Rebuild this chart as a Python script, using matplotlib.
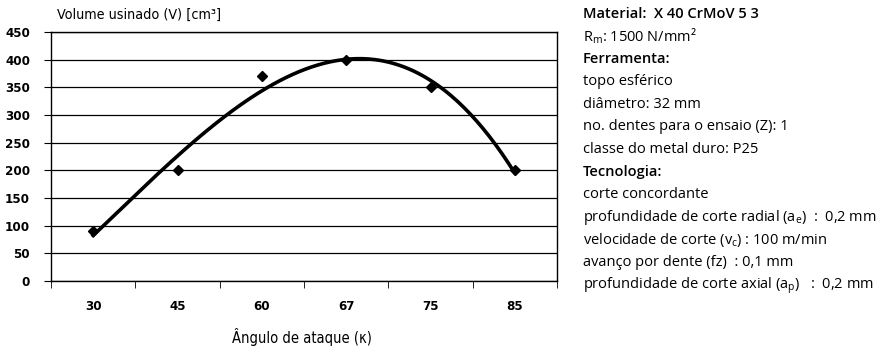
import numpy as np
import matplotlib
matplotlib.use("Agg")
import matplotlib.pyplot as plt

# data
angulos = ["30", "45", "60", "67", "75", "85"]
volume = [90, 200, 370, 400, 350, 200]
y_ticks = [0, 50, 100, 150, 200, 250, 300, 350, 400, 450]

info_lines = [
    ("Material:  X 40 CrMoV 5 3", True),
    ("R$\\mathregular{_m}$: 1500 N/mm²", False),
    ("Ferramenta:", True),
    ("topo esférico", False),
    ("diâmetro: 32 mm", False),
    ("no. dentes para o ensaio (Z): 1", False),
    ("classe do metal duro: P25", False),
    ("Tecnologia:", True),
    ("corte concordante", False),
    ("profundidade de corte radial (a$\\mathregular{_e}$)  :  0,2 mm", False),
    ("velocidade de corte (v$\\mathregular{_c}$) : 100 m/min", False),
    ("avanço por dente (fz)  : 0,1 mm", False),
    ("profundidade de corte axial (a$\\mathregular{_p}$)   :  0,2 mm", False),
]

plt.rcParams['mathtext.fontset'] = 'custom'
plt.rcParams['mathtext.rm'] = 'Open Sans'

fig = plt.figure(figsize=(8.96, 3.5), dpi=100)
ax = fig.add_axes([51/896, 69/350, 506/896, 249/350])

x = np.arange(len(angulos))
# polynomial trend line (3rd order) like the spreadsheet
coef = np.polyfit(x, volume, 3)
xs = np.linspace(x[0], x[-1], 200)
ax.plot(xs, np.polyval(coef, xs), color="black", lw=2.6, zorder=3)
ax.plot(x, volume, linestyle="none", marker="D", ms=5.5, color="black", zorder=4)

ax.set_xlim(-0.5, len(angulos) - 0.5)
ax.set_ylim(0, 450)
ax.set_yticks(y_ticks)
ax.set_xticks(x)
ax.set_xticklabels(angulos)
ax.set_xticks(np.arange(len(angulos) + 1) - 0.5, minor=True)
ax.tick_params(axis="x", which="major", length=0, pad=14)
ax.tick_params(axis="x", which="minor", length=5, direction="out")
ax.tick_params(axis="y", length=5, direction="out", pad=10)
for lab in ax.get_xticklabels() + ax.get_yticklabels():
    lab.set_family("DejaVu Sans")
    lab.set_stretch("condensed")
    lab.set_weight("bold")
    lab.set_fontsize(9.5)
ax.grid(axis="y", color="black", lw=0.9)
ax.set_axisbelow(True)
for s in ax.spines.values():
    s.set_color("black")
    s.set_linewidth(1.0)

fig.text(57/896, 1 - 15/350, "Volume usinado (V) [cm³]", fontsize=10.3,
         family="DejaVu Sans", stretch="condensed", va="center", ha="left")
fig.text(302/896, 1 - 337/350, "Ângulo de ataque (κ)", fontsize=10.5,
         family="DejaVu Sans", stretch="condensed", va="center", ha="center")

y0 = 14
dy = 22.6
for i, (txt, bold) in enumerate(info_lines):
    fig.text(583/896, 1 - (y0 + i * dy)/350, txt, fontsize=10.5,
             family=["Open Sans", "DejaVu Sans"],
             weight="semibold" if bold else "normal", va="center", ha="left")

fig.savefig("out.png", dpi=100)
